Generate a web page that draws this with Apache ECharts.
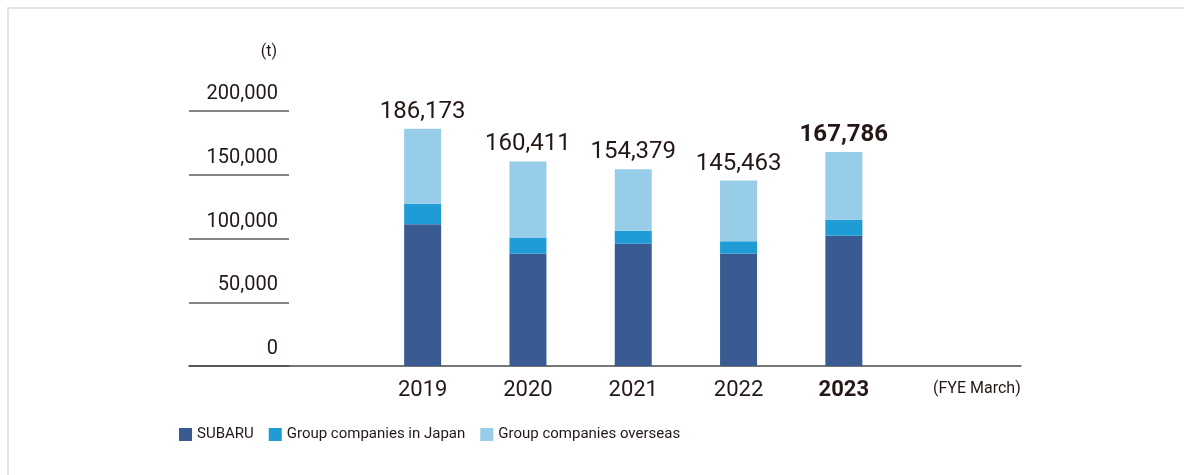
<!DOCTYPE html>
<html>
<head>
<meta charset="utf-8">
<script src="https://cdn.jsdelivr.net/npm/echarts@6/dist/echarts.min.js"></script>
<style>
  html, body { margin: 0; padding: 0; background: #fff; }
  #frame { position: absolute; left: 7px; top: 7px; width: 1300px; height: 600px;
           border-top: 2px solid #e4e4e4; border-left: 2px solid #e4e4e4; }
  #chart { position: absolute; left: 0; top: 0; width: 1184px; height: 475px; }
</style>
</head>
<body>
<div id="frame"></div>
<div id="chart"></div>
<script>
// Waste generated (t), by fiscal year ending March
const years = ['2019', '2020', '2021', '2022', '2023'];
const subaru = [111100, 88100, 95900, 88100, 102200];
const groupJapan = [16200, 12200, 10200, 9700, 12600];
const groupOverseas = [58873, 60111, 48279, 47663, 52986];
const totals = [186173, 160411, 154379, 145463, 167786];
const seriesNames = ['SUBARU', 'Group companies in Japan', 'Group companies overseas'];
const yTicks = { min: 0, max: 200000, interval: 50000 };

const FONT = 'Roboto, "Noto Sans", sans-serif';
const TEXT = '#231815';
const colors = ['#3a5b92', '#1f9bd6', '#98cdea'];
const lastIdx = years.length - 1;

const fmt = v => v.toLocaleString('en-US');

const chart = echarts.init(document.getElementById('chart'), null, { renderer: 'canvas' });

const gridTop = 111, gridBottom = 109;

chart.setOption({
  animation: false,
  textStyle: { fontFamily: FONT, color: TEXT },
  color: colors,
  grid: [
    // baseline frame
    { left: 189, right: 163, top: gridTop, bottom: gridBottom },
    // scale with short rules
    { left: 189, width: 100, top: gridTop, bottom: gridBottom },
    // bars
    { left: 370, width: 526.5, top: gridTop, bottom: gridBottom }
  ],
  xAxis: [
    {
      gridIndex: 0, type: 'value', min: 0, max: 1,
      axisLine: { show: true, lineStyle: { color: '#4a4a4a', width: 1.5 } },
      axisTick: { show: false }, axisLabel: { show: false }, splitLine: { show: false }
    },
    {
      gridIndex: 1, type: 'value', min: 0, max: 1, show: false
    },
    {
      gridIndex: 2, type: 'category',
      data: years.map((y, i) => i === lastIdx
        ? { value: y, textStyle: { fontWeight: 'bold' } }
        : y),
      axisLine: { show: false }, axisTick: { show: false },
      axisLabel: { fontFamily: FONT, fontSize: 22, color: TEXT, margin: 13, lineHeight: 22 }
    }
  ],
  yAxis: [
    { gridIndex: 0, type: 'value', min: yTicks.min, max: yTicks.max, interval: yTicks.interval, show: false },
    {
      gridIndex: 1, type: 'value', position: 'left',
      min: yTicks.min, max: yTicks.max, interval: yTicks.interval,
      axisLine: { show: false }, axisTick: { show: false },
      splitLine: { show: true, lineStyle: { color: '#5a5a5a', width: 1.5 } },
      axisLabel: {
        margin: -89, align: 'right', verticalAlign: 'bottom',
        fontFamily: FONT, fontSize: 20, color: TEXT, lineHeight: 20,
        padding: [0, 0, 7, 0],
        formatter: v => fmt(v)
      }
    },
    { gridIndex: 2, type: 'value', min: yTicks.min, max: yTicks.max, interval: yTicks.interval, show: false }
  ],
  legend: {
    left: 179, top: 427, padding: 0,
    itemWidth: 13, itemHeight: 13, itemGap: 15,
    icon: 'rect',
    textStyle: { fontFamily: FONT, fontSize: 15, color: TEXT },
    data: seriesNames
  },
  series: [
    {
      name: seriesNames[0], type: 'bar', stack: 'total', xAxisIndex: 2, yAxisIndex: 2,
      barWidth: 37, data: subaru, itemStyle: { color: colors[0] }
    },
    {
      name: seriesNames[1], type: 'bar', stack: 'total', xAxisIndex: 2, yAxisIndex: 2,
      barWidth: 37, data: groupJapan, itemStyle: { color: colors[1] }
    },
    {
      name: seriesNames[2], type: 'bar', stack: 'total', xAxisIndex: 2, yAxisIndex: 2,
      barWidth: 37, data: groupOverseas, itemStyle: { color: colors[2] },
      label: {
        show: true, position: 'top', distance: 5,
        formatter: p => p.dataIndex === lastIdx
          ? '{b|' + fmt(totals[p.dataIndex]) + '}'
          : '{n|' + fmt(totals[p.dataIndex]) + '}',
        rich: {
          n: { fontFamily: FONT, fontSize: 24, color: TEXT },
          b: { fontFamily: FONT, fontSize: 24, fontWeight: 'bold', color: TEXT }
        }
      }
    }
  ],
  graphic: [
    {
      type: 'text', right: 1184 - 277, top: 44,
      style: { text: '(t)', font: '16px ' + FONT, fill: TEXT }
    },
    {
      type: 'text', left: 933, top: 381,
      style: { text: '(FYE March)', font: '16px ' + FONT, fill: TEXT }
    }
  ]
});
</script>
</body>
</html>
